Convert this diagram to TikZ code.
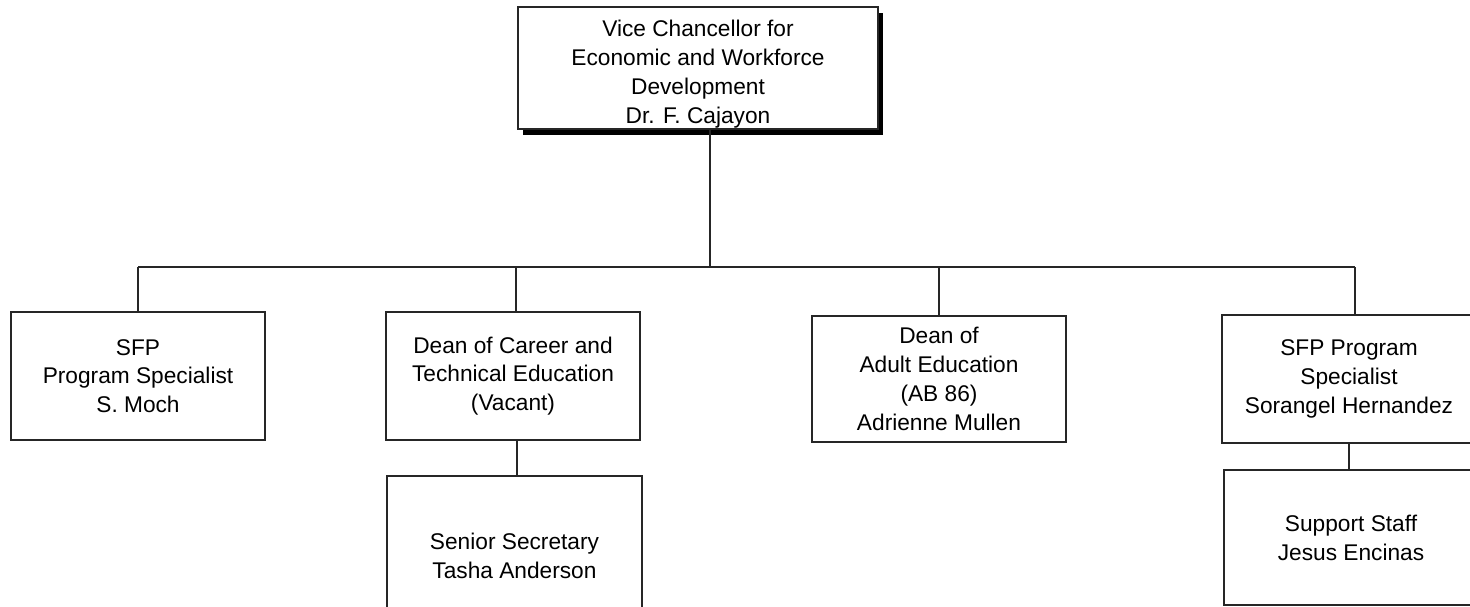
\documentclass[tikz,border=0pt]{standalone}
\usepackage{fontspec}
\setmainfont{Liberation Sans}
\usetikzlibrary{shadows}
\tikzset{
  box/.style={draw=black!85, line width=1.1pt, fill=white, rectangle, inner sep=0pt, align=center,
    font=\fontsize{22.7}{28.8}\selectfont},
  topbox/.style={box, drop shadow={shadow xshift=5pt, shadow yshift=-6pt, fill=black, opacity=1}},
  conn/.style={draw=black!85, line width=1.1pt},
}
\begin{document}
\begin{tikzpicture}[x=1pt,y=-1pt]
\useasboundingbox (0,0) rectangle (1470,607);
\clip (0,0) rectangle (1470,607);
\fill[white] (0,0) rectangle (1470,607);
% junction coordinates
\coordinate (j0) at (710,267);
\coordinate (j1) at (138,267);
\coordinate (j2) at (516,267);
\coordinate (j3) at (939,267);
\coordinate (j4) at (1355,267);
\coordinate (k1) at (517,458);
\coordinate (k2) at (1349,456);
% nodes
\node[topbox, minimum width=360pt, minimum height=122pt] (top) at (698,68)
  {\rule{0pt}{29pt}Vice Chancellor for\\Economic and Workforce\\Development\\Dr. F. Cajayon};
\node[box, minimum width=254pt, minimum height=128pt] (sfp1) at (138,376)
  {SFP\\Program Specialist\\S. Moch};
\node[box, minimum width=254pt, minimum height=128pt] (cte) at (513,376)
  {Dean of Career and\\Technical Education\\(Vacant)};
\node[box, minimum width=254pt, minimum height=126pt] (adult) at (939,379)
  {Dean of\\Adult Education\\(AB 86)\\Adrienne Mullen};
\node[box, minimum width=254pt, minimum height=128pt] (sfp2) at (1349,379)
  {SFP Program\\Specialist\\Sorangel Hernandez};
\node[box, minimum width=255pt, minimum height=160pt] (sec) at (514.5,556)
  {Senior Secretary\\Tasha Anderson};
\node[box, minimum width=254pt, minimum height=135pt] (sup) at (1351,537.5)
  {Support Staff\\Jesus Encinas};
% connectors
\draw[conn] (top.south -| j0) -- (j0);
\draw[conn] (j1) -- (j4);
\draw[conn] (j1) -- (sfp1.north -| j1);
\draw[conn] (j2) -- (cte.north -| j2);
\draw[conn] (j3) -- (adult.north -| j3);
\draw[conn] (j4) -- (sfp2.north -| j4);
\draw[conn] (cte.south -| k1) -- (sec.north -| k1);
\draw[conn] (sfp2.south -| k2) -- (sup.north -| k2);
\end{tikzpicture}
\end{document}
